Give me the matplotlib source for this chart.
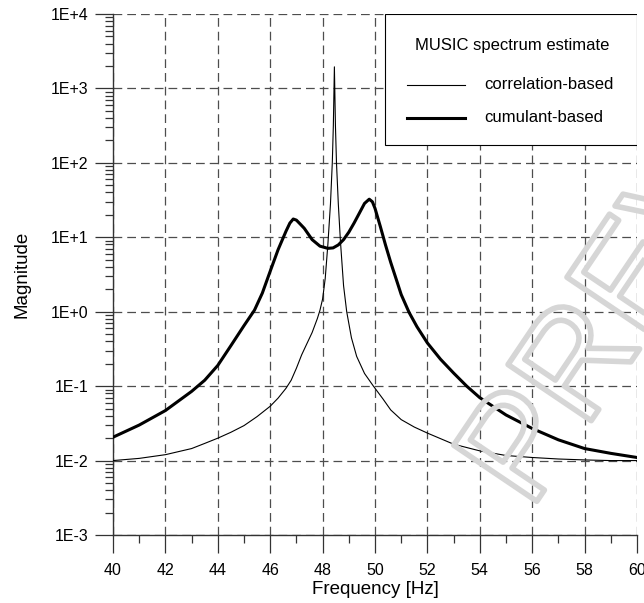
import matplotlib
matplotlib.use("Agg")
import matplotlib.pyplot as plt
import matplotlib.patheffects as pe
from matplotlib.lines import Line2D
from matplotlib.patches import Rectangle
from matplotlib.ticker import FixedLocator, LogLocator, NullFormatter, FuncFormatter

plt.rcParams['font.family'] = ['Liberation Sans', 'DejaVu Sans']

# values
freq_corr = [40, 41, 42, 43, 43.5, 44, 44.5, 45, 45.5, 46, 46.3, 46.6, 46.8, 47.0,
             47.2, 47.4, 47.6, 47.8, 47.9, 48.0, 48.1, 48.2, 48.3, 48.37, 48.41,
             48.45, 48.49, 48.53, 48.6, 48.68, 48.8, 48.92, 49.1, 49.3, 49.6, 49.94,
             50.3, 50.6, 51, 51.5, 52, 53, 54, 55, 56, 57, 58, 59, 60]
mag_corr = [0.0100, 0.0107, 0.0120, 0.0145, 0.0170, 0.0200, 0.0240, 0.0295, 0.0390,
            0.0537, 0.0690, 0.0933, 0.120, 0.174, 0.263, 0.372, 0.525, 0.81, 1.05,
            1.48, 2.8, 7.9, 28, 100, 316, 1950, 316, 100, 28, 8.9, 2.24, 1.0, 0.447,
            0.251, 0.148, 0.100, 0.0676, 0.0479, 0.0355, 0.0282, 0.0234, 0.0166,
            0.0135, 0.0117, 0.0110, 0.0105, 0.0102, 0.0100, 0.0100]

freq_cum = [40, 41, 42, 43, 43.5, 44, 44.5, 45, 45.4, 45.7, 46, 46.3, 46.6, 46.75,
            46.88, 47.0, 47.15, 47.3, 47.6, 47.9, 48.2, 48.4, 48.6, 48.8, 49.0, 49.2,
            49.4, 49.6, 49.78, 49.9, 50.0, 50.2, 50.4, 50.6, 50.83, 51.0, 51.3, 51.6,
            52, 52.5, 53, 53.5, 54, 55, 56, 57, 58, 59, 60]
mag_cum = [0.0206, 0.030, 0.047, 0.085, 0.12, 0.19, 0.35, 0.65, 1.05, 1.78, 3.5, 6.8,
           12.0, 15.5, 17.6, 17.0, 15.0, 13.2, 9.3, 7.6, 7.1, 7.2, 7.9, 9.3, 11.7,
           15.5, 21.0, 28.5, 32.5, 30.0, 24.5, 14.1, 7.9, 4.6, 2.6, 1.7, 0.98, 0.63,
           0.38, 0.23, 0.15, 0.10, 0.070, 0.041, 0.027, 0.019, 0.0145, 0.0125, 0.0110]

x_ticks = [40, 42, 44, 46, 48, 50, 52, 54, 56, 58, 60]
y_ticks = [1e-3, 1e-2, 1e-1, 1e0, 1e1, 1e2, 1e3, 1e4]
y_labels = ['1E-3', '1E-2', '1E-1', '1E+0', '1E+1', '1E+2', '1E+3', '1E+4']

fig = plt.figure(figsize=(6.44, 6.03), dpi=100)
ax = fig.add_axes([113 / 644, 1 - 535 / 603, 524 / 644, 521 / 603])

ax.plot(freq_corr, mag_corr, color='black', lw=0.8, zorder=3)
ax.plot(freq_cum, mag_cum, color='black', lw=2.2, zorder=3)

ax.set_yscale('log')
ax.set_xlim(40, 60)
ax.set_ylim(1e-3, 1e4)
ax.xaxis.set_major_locator(FixedLocator(x_ticks))
ax.xaxis.set_minor_locator(FixedLocator(list(range(41, 60, 2))))
ax.yaxis.set_major_locator(FixedLocator(y_ticks))
ax.yaxis.set_major_formatter(FuncFormatter(lambda v, p: y_labels[y_ticks.index(v)] if v in y_ticks else ''))
ax.yaxis.set_minor_locator(LogLocator(base=10, subs=range(2, 10), numticks=20))
ax.yaxis.set_minor_formatter(NullFormatter())

ax.tick_params(which='major', direction='out', length=13, width=0.9, labelsize=11.5, color='#333333')
ax.tick_params(axis='x', which='major', pad=7)
ax.tick_params(axis='y', which='major', pad=5)
ax.tick_params(which='minor', direction='out', length=6, width=0.9, color='#333333')

for side in ['top', 'right']:
    ax.spines[side].set_visible(False)
for side in ['left', 'bottom']:
    ax.spines[side].set_linewidth(1.0)
    ax.spines[side].set_color('#333333')

ax.grid(True, which='major', color='#4d4d4d', lw=0.9, linestyle=(0, (7, 4)))
ax.set_axisbelow(True)

ax.set_xlabel('Frequency [Hz]', fontsize=13.5, labelpad=2)
ax.set_ylabel('Magnitude', fontsize=13.5, labelpad=14)

# legend box drawn by hand to match the original layout
ax.add_patch(Rectangle((0.519, 0.749), 0.481, 0.251, transform=ax.transAxes,
                       facecolor='white', edgecolor='black', lw=0.8, zorder=4))
ax.text(0.762, 0.939, 'MUSIC spectrum estimate', transform=ax.transAxes,
        ha='center', va='center', fontsize=12, zorder=5)
ax.add_line(Line2D([0.562, 0.672], [0.864, 0.864], transform=ax.transAxes,
                   color='black', lw=0.8, zorder=5))
ax.add_line(Line2D([0.562, 0.672], [0.801, 0.801], transform=ax.transAxes,
                   color='black', lw=2.2, zorder=5))
ax.text(0.708, 0.864, 'correlation-based', transform=ax.transAxes,
        ha='left', va='center', fontsize=12, zorder=5)
ax.text(0.708, 0.801, 'cumulant-based', transform=ax.transAxes,
        ha='left', va='center', fontsize=12, zorder=5)

# watermark
fig.text(555 / 644, 75 / 603, 'PREVIEW', rotation=56, fontsize=105, color='none',
         ha='left', va='bottom', rotation_mode='anchor', zorder=10,
         path_effects=[pe.Stroke(linewidth=4, foreground='#d6d6d6')])

fig.savefig('out.png', dpi=100)
